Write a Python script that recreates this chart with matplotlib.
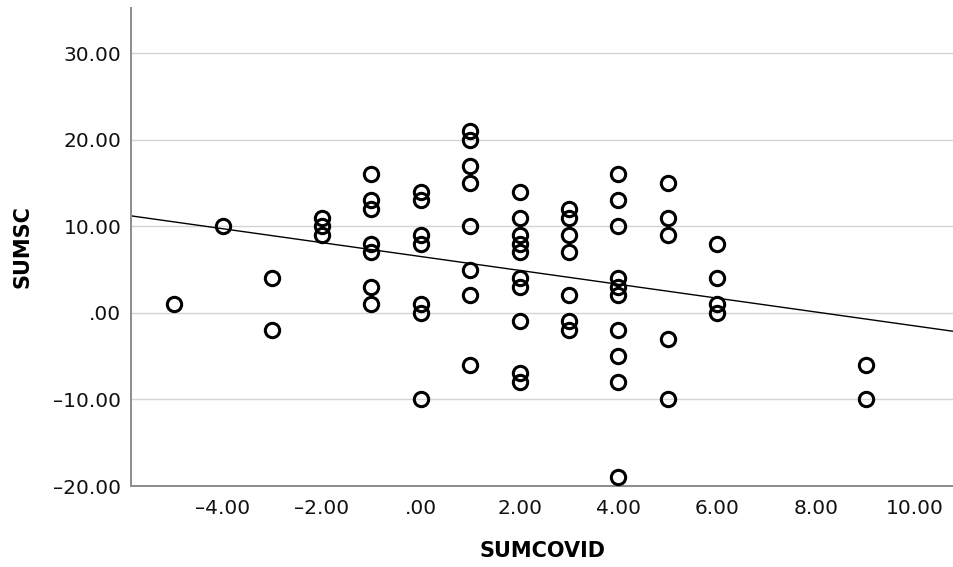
import matplotlib
matplotlib.use("Agg")
import matplotlib.pyplot as plt
from matplotlib.ticker import FuncFormatter
import numpy as np

# SUMCOVID score and the SUMSC values recorded at each score
sumcovid_levels = [-5, -4, -3, -2, -1, 0, 1, 2, 3, 4, 5, 6, 9]
sumsc_by_level = [
    [1],
    [10],
    [4, -2],
    [11, 10, 9],
    [16, 13, 12, 8, 7, 3, 1],
    [14, 13, 9, 8, 1, 0, -10],
    [21, 20, 17, 15, 10, 5, 2, -6],
    [14, 11, 9, 8, 7, 4, 3, -1, -7, -8],
    [12, 11, 9, 7, 2, -1, -2],
    [16, 13, 10, 4, 3, 2, -2, -5, -8, -19],
    [15, 11, 9, -3, -10],
    [8, 4, 1, 0],
    [-6, -10],
]

x_ticks = [-4, -2, 0, 2, 4, 6, 8, 10]
y_ticks = [-20, -10, 0, 10, 20, 30]

sumcovid = np.array([lv for lv, ys in zip(sumcovid_levels, sumsc_by_level) for _ in ys], dtype=float)
sumsc = np.array([y for ys in sumsc_by_level for y in ys], dtype=float)


def spss_fmt(v, pos=None):
    # SPSS style: two decimals, no leading zero, short dash for negatives
    s = f"{abs(v):.2f}"
    if s.startswith("0."):
        s = s[1:]
    return ("\u2013" + s) if v < 0 else s


fig = plt.figure(figsize=(9.54, 5.67), dpi=100)
ax = fig.add_axes([131 / 954, 1 - 486 / 567, (954 - 131) / 954, (486 - 8) / 567])

xlim = (-5.86, 10.79)
ax.set_xlim(*xlim)
ax.set_ylim(-20, 35.2)

ax.set_yticks(y_ticks)
ax.set_xticks(x_ticks)
ax.yaxis.set_major_formatter(FuncFormatter(spss_fmt))
ax.xaxis.set_major_formatter(FuncFormatter(spss_fmt))
ax.grid(axis="y", color="#d4d4d4", linewidth=1.0)
ax.set_axisbelow(True)

for side in ("top", "right"):
    ax.spines[side].set_visible(False)
for side in ("left", "bottom"):
    ax.spines[side].set_color("#8c8c8c")
    ax.spines[side].set_linewidth(1.4)

ax.tick_params(axis="both", length=0, labelsize=14.5, colors="#111111")
ax.tick_params(axis="y", pad=7)
ax.tick_params(axis="x", pad=9)

# least-squares fit line across the full x range
slope, intercept = np.polyfit(sumcovid, sumsc, 1)
xs = np.array(xlim)
ax.plot(xs, intercept + slope * xs, color="black", linewidth=1.0, zorder=2)

ax.plot(sumcovid, sumsc, linestyle="none", marker="o", markersize=10.3,
        markerfacecolor="none", markeredgecolor="black", markeredgewidth=2.2,
        zorder=3, clip_on=False)

ax.set_xlabel("SUMCOVID", fontsize=15, fontweight="bold", labelpad=17)
ax.set_ylabel("SUMSC", fontsize=15, fontweight="bold", labelpad=15)

fig.savefig("out.png", dpi=100)
